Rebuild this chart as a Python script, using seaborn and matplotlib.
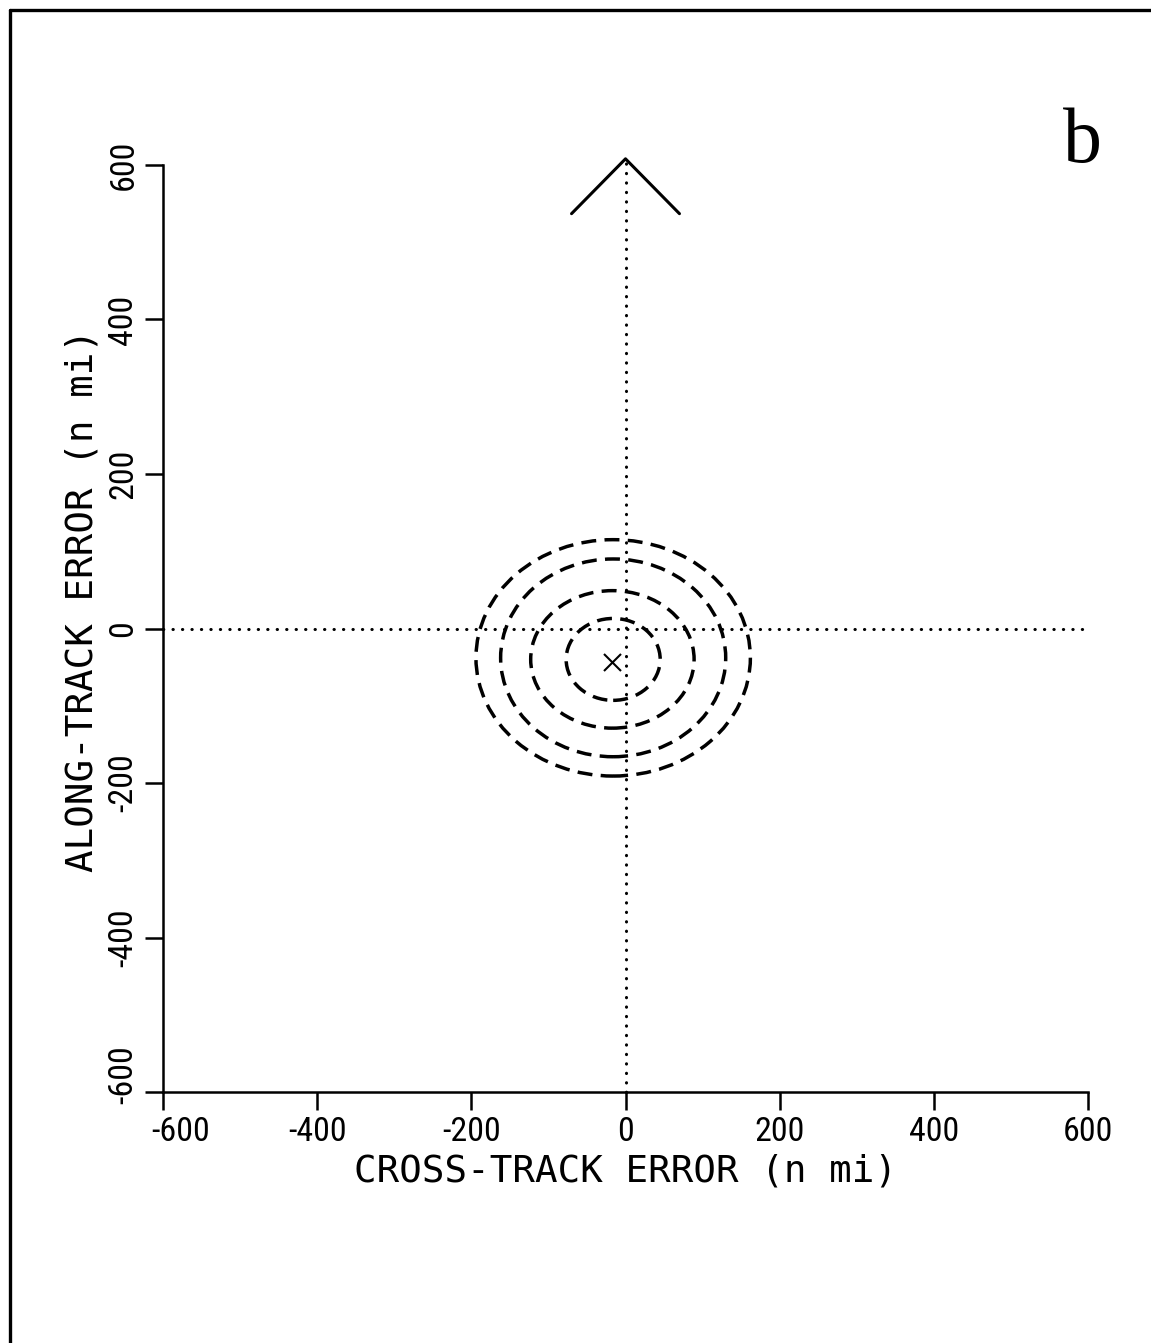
import numpy as np
import pandas as pd
import matplotlib
matplotlib.use("Agg")
import matplotlib.pyplot as plt
from matplotlib.patches import Ellipse
from matplotlib.lines import Line2D
from matplotlib.transforms import ScaledTranslation
from matplotlib import font_manager
import seaborn as sns

# ---- data ----
ticks = [-600, -400, -200, 0, 200, 400, 600]
tick_labels = ["-600", "-400", "-200", "0", "200", "400", "600"]
ell_cx = [-16, -16, -17, -16]
ell_cy = [-38, -38, -40, -40]
ell_semi_x = [178, 146, 106, 61]
ell_semi_y = [153, 128, 89, 53]
mean_x = [-17]
mean_y = [-44]
arrow_x = [-70, 0, 70]
arrow_y = [537, 608, 537]
xlabel = "CROSS-TRACK ERROR (n mi)"
ylabel = "ALONG-TRACK ERROR (n mi)"
panel = "b"

sns.set_theme(style="white")
plt.rcParams['font.family'] = ['DejaVu Sans Mono', 'DejaVu Sans']

# choose a narrow font for the tick numbers
_fl = font_manager.fontManager.ttflist
_names = {f.name for f in _fl}
if 'Liberation Sans Narrow' in _names:
    tick_kw = dict(family='Liberation Sans Narrow', fontsize=25)
elif 'Roboto Condensed' in _names:
    tick_kw = dict(family='Roboto Condensed', fontsize=24.5)
elif any(f.name == 'DejaVu Sans' and f.stretch == 'condensed' for f in _fl):
    tick_kw = dict(family='DejaVu Sans', fontstretch='condensed', fontsize=20.5)
else:
    tick_kw = dict(family='DejaVu Sans Mono', fontsize=20)

W, H = 1151, 1343
fig = plt.figure(figsize=(W / 100, H / 100), dpi=100)
ax = fig.add_axes([163 / W, 1 - 1092 / H, (1088 - 163) / W, (1092 - 165) / H])

# dotted reference axes
dot = (0, (0.1, 3.0))
ax.plot([-600, 600], [0, 0], color="black", lw=2.2, ls=dot,
        dash_capstyle="round", clip_on=False)
ax.plot([0, 0], [-600, 608], color="black", lw=2.2, ls=dot,
        dash_capstyle="round", clip_on=False)

# arrow head
sns.lineplot(x=arrow_x, y=arrow_y, sort=False, color="black", lw=2.2, ax=ax,
             estimator=None, clip_on=False)

# ellipses
for cx, cy, sx, sy in zip(ell_cx, ell_cy, ell_semi_x, ell_semi_y):
    e = Ellipse((cx, cy), 2 * sx, 2 * sy, fill=False, ec="black", lw=2.5,
                ls=(0, (4.3, 2.4)))
    ax.add_patch(e)

# mean position marker
sns.scatterplot(x=mean_x, y=mean_y, marker="x", s=150, color="black",
                linewidth=1.5, ax=ax, zorder=5)

ax.set_xlim(-600, 600)
ax.set_ylim(-600, 600)
ax.set_xticks(ticks)
ax.set_xticklabels(tick_labels, **tick_kw)
ax.set_yticks(ticks)
ax.set_yticklabels(tick_labels, rotation=90, va="center", **tick_kw)
ax.tick_params(axis="both", direction="out", length=13, width=1.8,
               color="black", labelcolor="black", bottom=True, left=True)
ax.tick_params(axis="x", pad=4)
ax.tick_params(axis="y", pad=4)

# the first labels are nudged away from the corner, as in the reference
xl0 = ax.get_xticklabels()[0]
xl0.set_transform(xl0.get_transform() + ScaledTranslation(18 / 100, 0, fig.dpi_scale_trans))
yl0 = ax.get_yticklabels()[0]
yl0.set_transform(yl0.get_transform() + ScaledTranslation(0, 17 / 100, fig.dpi_scale_trans))

for s in ["top", "right"]:
    ax.spines[s].set_visible(False)
for s in ["left", "bottom"]:
    ax.spines[s].set_color("black")
    ax.spines[s].set_linewidth(1.8)

ax.set_xlabel(xlabel, fontsize=27, color="black")
ax.set_ylabel(ylabel, fontsize=27, color="black")
ax.xaxis.set_label_coords(0.5, -0.066)
ax.yaxis.set_label_coords(-0.068, 0.53)
ax.set_facecolor("white")

# panel letter
fig.text(1063 / W, 1 - 162 / H, panel, fontsize=56, family="Liberation Serif",
         ha="left", va="baseline", color="black")

# outer frame (left and top only, as in the scan)
fig.add_artist(Line2D([10 / W, 10 / W], [0, 1 - 10 / H], transform=fig.transFigure,
                      color="black", lw=2.4))
fig.add_artist(Line2D([10 / W, 1], [1 - 10 / H, 1 - 10 / H], transform=fig.transFigure,
                      color="black", lw=2.4))

fig.savefig("out.png", dpi=100, facecolor="white")
